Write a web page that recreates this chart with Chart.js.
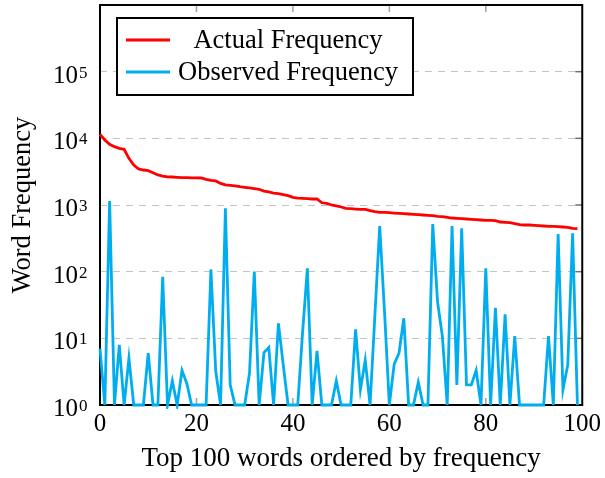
<!DOCTYPE html>
<html>
<head>
<meta charset="utf-8">
<script src="https://cdn.jsdelivr.net/npm/chart.js@4.4.1/dist/chart.umd.min.js"></script>
<style>
  html, body { margin: 0; padding: 0; background: #fff; }
</style>
</head>
<body>
<canvas id="graficoFrecuencias" width="605" height="478"></canvas>
<script>
// Datos (eje y logarítmico)
const etiquetasSeries = ["Actual Frequency", "Observed Frequency"];

const frecuenciaReal = [
  11500, 9440, 8130, 7500, 7080, 6840, 5010, 3980, 3470, 3350,
  3270, 3055, 2820, 2720, 2650, 2630, 2600, 2570, 2570, 2560,
  2550, 2540, 2430, 2340, 2300, 2110, 2000, 1970, 1930, 1880,
  1840, 1800, 1760, 1720, 1620, 1570, 1510, 1480, 1430, 1380,
  1300, 1270, 1260, 1245, 1230, 1230, 1080, 1060, 1000, 970,
  933, 891, 881, 870, 860, 860, 822, 794, 776, 776,
  767, 758, 750, 741, 733, 725, 716, 708, 700, 692,
  676, 668, 653, 638, 631, 624, 617, 610, 603, 596,
  589, 589, 582, 556, 550, 543, 525, 507, 501, 501,
  495, 490, 484, 479, 479, 473, 468, 462, 447, 442
];

const frecuenciaObservada = [
  7, 1, 1150, 1, 8, 1, 5, 1, 1, 1,
  6, 1, 1, 84, 1, 2.3, 1, 3.3, 2.1, 1,
  1, 1, 1, 108, 3.2, 1, 890, 2, 1, 1,
  1, 3, 100, 1, 6.1, 7.3, 1, 16.8, 4, 1,
  1, 1, 12, 112, 1, 6.5, 1, 1, 1, 2.3,
  1, 1, 1, 13.6, 1.7, 4.7, 1, 22, 484, 25,
  1, 4.1, 6, 20, 1, 1, 2.2, 1, 1, 519,
  35, 10.6, 1, 484, 2, 447, 2, 2, 3.3, 1,
  112, 1, 28.8, 1, 22.9, 1, 10.8, 1, 1, 1,
  1, 1, 1, 10.8, 1, 367, 1.7, 4, 376, 1
];

// Posición (rango) de cada palabra: 0 .. 99
const rangos = frecuenciaReal.map((_, i) => i);

const exponentesY = [0, 1, 2, 3, 4, 5, 6];
const exponentesConEtiqueta = [0, 1, 2, 3, 4, 5];
const ticksX = [0, 20, 40, 60, 80, 100];

const fuente = '"Liberation Serif", "DejaVu Serif", "Times New Roman", serif';

// Marco, marcas interiores, etiquetas 10^n y leyenda
const marcoPlugin = {
  id: "marco",
  beforeDatasetsDraw(chart) {
    const { ctx, chartArea: a, scales } = chart;
    ctx.save();
    // marcas interiores del eje x
    ctx.strokeStyle = "#a0a0a0";
    ctx.lineWidth = 1.5;
    ticksX.slice(1, -1).forEach(v => {
      const x = scales.x.getPixelForValue(v);
      ctx.beginPath();
      ctx.moveTo(x, a.bottom); ctx.lineTo(x, a.bottom - 7);
      ctx.moveTo(x, a.top); ctx.lineTo(x, a.top + 7);
      ctx.stroke();
    });
    // marcas interiores del eje y (lado derecho)
    ctx.strokeStyle = "#707070";
    exponentesY.slice(1, -1).forEach(e => {
      const y = scales.y.getPixelForValue(Math.pow(10, e));
      ctx.beginPath();
      ctx.moveTo(a.right, y); ctx.lineTo(a.right - 7, y);
      ctx.stroke();
    });
    // marco
    ctx.strokeStyle = "#000";
    ctx.lineWidth = 2;
    ctx.strokeRect(a.left, a.top, a.right - a.left, a.bottom - a.top);
    ctx.restore();
  },
  afterDraw(chart) {
    const { ctx, chartArea: a, scales } = chart;
    ctx.save();
    ctx.fillStyle = "#000";
    // etiquetas del eje y como 10 con exponente
    exponentesConEtiqueta.forEach(e => {
      const y = scales.y.getPixelForValue(Math.pow(10, e));
      ctx.font = "25px " + fuente;
      ctx.textAlign = "right";
      ctx.textBaseline = "alphabetic";
      ctx.fillText("10", a.left - 22, y + 11);
      ctx.font = "17px " + fuente;
      ctx.textAlign = "left";
      ctx.fillText(String(e), a.left - 21, y + 6);
    });

    // leyenda
    const lx = a.left + 17, ly = a.top + 13, lw = 296, lh = 77;
    ctx.fillStyle = "#fff";
    ctx.fillRect(lx, ly, lw, lh);
    ctx.strokeStyle = "#000";
    ctx.lineWidth = 2;
    ctx.strokeRect(lx, ly, lw, lh);
    chart.data.datasets.forEach((ds, i) => {
      const y = ly + 22 + i * 32;
      ctx.strokeStyle = ds.borderColor;
      ctx.lineWidth = ds.borderWidth;
      ctx.beginPath();
      ctx.moveTo(lx + 9, y); ctx.lineTo(lx + 53, y);
      ctx.stroke();
      ctx.fillStyle = "#000";
      ctx.font = "26.5px " + fuente;
      ctx.textAlign = "center";
      ctx.textBaseline = "middle";
      ctx.fillText(ds.label, lx + 171, y + 1);
    });
    ctx.restore();
  }
};

const ctx = document.getElementById("graficoFrecuencias").getContext("2d");

new Chart(ctx, {
  type: "line",
  data: {
    datasets: [
      {
        label: etiquetasSeries[0],
        data: rangos.map((r, i) => ({ x: r, y: frecuenciaReal[i] })),
        borderColor: "#ff0000",
        borderWidth: 2.8,
        pointRadius: 0,
        tension: 0,
        fill: false,
        clip: 4
      },
      {
        label: etiquetasSeries[1],
        data: rangos.map((r, i) => ({ x: r, y: frecuenciaObservada[i] })),
        borderColor: "#00aeef",
        borderWidth: 2.8,
        pointRadius: 0,
        tension: 0,
        fill: false,
        clip: 4
      }
    ]
  },
  options: {
    responsive: false,
    animation: false,
    devicePixelRatio: 1,
    layout: { padding: { left: 0, right: 22, top: 5, bottom: 0 } },
    plugins: {
      legend: { display: false },
      tooltip: { enabled: false }
    },
    scales: {
      x: {
        type: "linear",
        min: 0,
        max: 100,
        grid: { display: false, drawTicks: false },
        border: { display: false },
        afterBuildTicks: scale => { scale.ticks = ticksX.map(v => ({ value: v })); },
        ticks: {
          color: "#000",
          font: { family: fuente, size: 25 },
          padding: 4,
          maxRotation: 0
        },
        title: {
          display: true,
          text: "Top 100 words ordered by frequency",
          color: "#000",
          font: { family: fuente, size: 27 },
          padding: { top: 0, bottom: 3 }
        },
        afterFit: scale => { scale.height = 73; }
      },
      y: {
        type: "logarithmic",
        min: 1,
        max: 1e6,
        afterBuildTicks: scale => {
          scale.ticks = exponentesY.map(e => ({ value: Math.pow(10, e) }));
        },
        grid: {
          drawTicks: false,
          lineWidth: 1,
          color: c => (c.tick && c.tick.value > 1 && c.tick.value < 1e6) ? "#c4c4c4" : "rgba(0,0,0,0)"
        },
        border: { display: false, dash: [7, 6] },
        ticks: { display: false },
        title: {
          display: true,
          text: "Word Frequency",
          color: "#000",
          font: { family: fuente, size: 26.5 },
          padding: { top: 7, bottom: 0 }
        },
        afterFit: scale => { scale.width = 100; }
      }
    }
  },
  plugins: [marcoPlugin]
});
</script>
</body>
</html>
